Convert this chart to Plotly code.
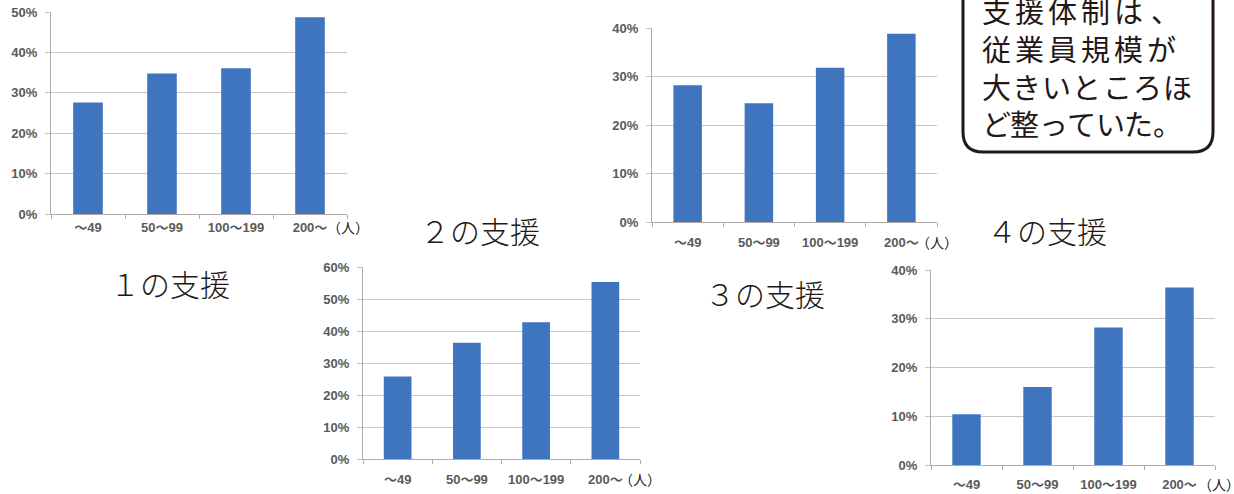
import plotly.graph_objects as go

W, H = 1234, 494

# Employee-size categories shared by all four charts
categories = ["～49", "50～99", "100～199", "200～"]
unit_label = "（人）"

# Share of companies offering each kind of support, by company size
support_1 = [0.276, 0.348, 0.361, 0.487]
support_2 = [0.258, 0.363, 0.427, 0.553]
support_3 = [0.282, 0.245, 0.318, 0.388]
support_4 = [0.104, 0.160, 0.282, 0.364]

titles = ["１の支援", "２の支援", "３の支援", "４の支援"]
y_max = [0.5, 0.6, 0.4, 0.4]

callout_lines = ["支援体制は、", "従業員規模が", "大きいところほ", "ど整っていた。"]

BAR = "#3f74bf"
GRID = "#cfc5bf"
AXIS = "#b3aaa5"
TICKFONT = dict(family="Liberation Sans, Arial, Noto Sans CJK JP", size=13,
                color="#5a5a5a", weight="bold")
INK = "#231815"


def fx(p):
    return p / W


def fy(p):
    return 1 - p / H


# Plot-area boxes in pixels: left, right, top (at y_max), bottom (at 0)
boxes = [
    (51, 347, 12, 214),
    (363, 640, 267, 459),
    (652, 937, 28, 222),
    (931, 1215, 270, 465),
]
x_label_standoff = [1, 8, 8, 7]
series = [support_1, support_2, support_3, support_4]

fig = go.Figure()
layout = dict(
    width=W, height=H,
    margin=dict(l=0, r=0, t=0, b=0, autoexpand=False),
    paper_bgcolor="white", plot_bgcolor="white",
    showlegend=False,
    bargap=0.6,
    annotations=[], shapes=[],
)

for i, (vals, box, top, so) in enumerate(zip(series, boxes, y_max, x_label_standoff)):
    n = "" if i == 0 else str(i + 1)
    left, right, ytop, ybot = box
    fig.add_trace(go.Bar(x=categories, y=vals, marker=dict(color=BAR, line=dict(width=0)),
                         xaxis="x" + n, yaxis="y" + n, hoverinfo="skip"))
    layout["xaxis" + n] = dict(
        domain=[fx(left), fx(right)], anchor="y" + n, type="category",
        tickson="boundaries", ticks="outside", ticklen=4, tickcolor=AXIS,
        showline=True, linecolor=AXIS, linewidth=1, showgrid=False,
        tickfont=TICKFONT, tickangle=0, ticklabelstandoff=so,
        automargin=False, fixedrange=True,
    )
    layout["yaxis" + n] = dict(
        domain=[fy(ybot), fy(ytop)], anchor="x" + n, range=[0, top],
        dtick=0.1, tickformat=".0%", ticks="outside", ticklen=5, tickcolor=GRID,
        showline=True, linecolor=AXIS, linewidth=1,
        showgrid=True, gridcolor=GRID, gridwidth=1, zeroline=False,
        tickfont=TICKFONT, ticklabelstandoff=5, automargin=False, fixedrange=True,
    )

# "(人)" unit after the last category label
unit_pos = [(348, 227), (640, 479), (937, 242), (1219, 484)]
for ux, uy in unit_pos:
    layout["annotations"].append(dict(
        x=fx(ux), y=fy(uy), xref="paper", yref="paper", xanchor="center", yanchor="middle",
        text=unit_label, showarrow=False,
        font=dict(family="Noto Sans CJK JP", size=14, color=INK),
    ))

# Chart titles
title_pos = [(170, 283), (480, 230), (765, 293), (1047, 230)]
for t, (tx, ty) in zip(titles, title_pos):
    layout["annotations"].append(dict(
        x=fx(tx), y=fy(ty), xref="paper", yref="paper", xanchor="center", yanchor="middle",
        text=t, showarrow=False,
        font=dict(family="Noto Sans CJK JP", size=30, color=INK, weight=300),
    ))

# Rounded callout box, open past the top edge
bx0, bx1, by0, by1, r = 963, 1213, -20, 152, 20
path = (f"M {fx(bx0)},{fy(by0)} L {fx(bx0)},{fy(by1 - r)} "
        f"Q {fx(bx0)},{fy(by1)} {fx(bx0 + r)},{fy(by1)} "
        f"L {fx(bx1 - r)},{fy(by1)} "
        f"Q {fx(bx1)},{fy(by1)} {fx(bx1)},{fy(by1 - r)} "
        f"L {fx(bx1)},{fy(by0)}")
layout["shapes"].append(dict(type="path", path=path, xref="paper", yref="paper",
                             line=dict(color=INK, width=3)))

# Callout text, laid out character by character to fill each line
line_y = [10, 48, 86, 123]
line_pitch = [33, 33, 30.3, 28.5]
punct_shift = {"、": 4, "。": 0}
for line, ly, pitch in zip(callout_lines, line_y, line_pitch):
    for k, ch in enumerate(line):
        cx = 996 + k * pitch + punct_shift.get(ch, 0)
        layout["annotations"].append(dict(
            x=fx(cx), y=fy(ly), xref="paper", yref="paper",
            xanchor="center", yanchor="middle",
            text=ch, showarrow=False,
            font=dict(family="Noto Sans CJK JP", size=29, color=INK, weight=400),
        ))

fig.update_layout(**layout)
fig.write_html("out.html")
